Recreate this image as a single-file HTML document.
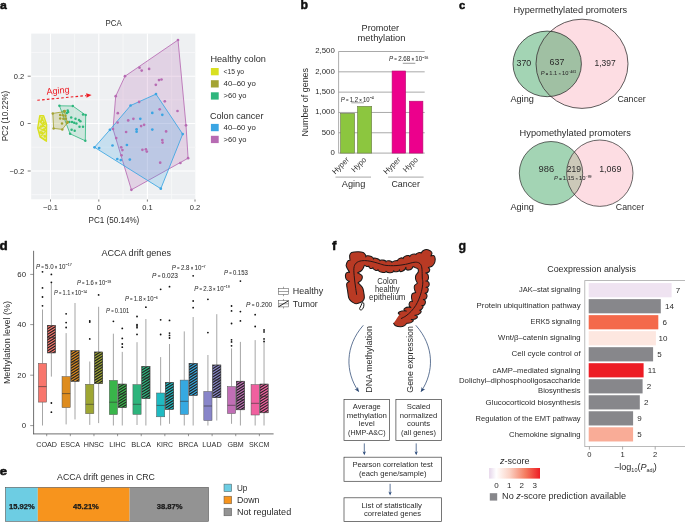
<!DOCTYPE html>
<html lang="en">
<head>
<meta charset="utf-8">
<title>Figure</title>
<style>
html,body{margin:0;padding:0;background:#fff;}
body{width:685px;height:522px;overflow:hidden;font-family:"Liberation Sans",sans-serif;}
svg{display:block;}
svg text{font-family:"Liberation Sans",sans-serif;}
</style>
</head>
<body>
<svg width="685" height="522" viewBox="0 0 685 522">
<rect x="0" y="0" width="685" height="522" fill="#ffffff"/>
<g fill="#2b2b2b">
<text x="0.10" y="8.80" font-size="11.4" textLength="6.80" lengthAdjust="spacingAndGlyphs" fill="#111" font-weight="bold" stroke="#111" stroke-width="0.5" stroke-linejoin="round">a</text>
<text x="113.60" y="25.70" font-size="8.6" text-anchor="middle" textLength="16.20" lengthAdjust="spacingAndGlyphs">PCA</text>
<rect x="31.20" y="33.60" width="164.10" height="165.70" fill="#eef0f2" />
<line x1="74.60" y1="33.60" x2="74.60" y2="199.30" stroke="#f9fafb" stroke-width="0.7" />
<line x1="123.00" y1="33.60" x2="123.00" y2="199.30" stroke="#f9fafb" stroke-width="0.7" />
<line x1="171.60" y1="33.60" x2="171.60" y2="199.30" stroke="#f9fafb" stroke-width="0.7" />
<line x1="31.20" y1="52.50" x2="195.30" y2="52.50" stroke="#f7f8f9" stroke-width="0.8" />
<line x1="31.20" y1="99.80" x2="195.30" y2="99.80" stroke="#f7f8f9" stroke-width="0.8" />
<line x1="31.20" y1="147.20" x2="195.30" y2="147.20" stroke="#f7f8f9" stroke-width="0.8" />
<line x1="31.20" y1="194.60" x2="195.30" y2="194.60" stroke="#f7f8f9" stroke-width="0.8" />
<line x1="50.50" y1="33.60" x2="50.50" y2="199.30" stroke="#ffffff" stroke-width="1.1" />
<line x1="98.80" y1="33.60" x2="98.80" y2="199.30" stroke="#ffffff" stroke-width="1.1" />
<line x1="147.40" y1="33.60" x2="147.40" y2="199.30" stroke="#ffffff" stroke-width="1.1" />
<line x1="31.20" y1="76.20" x2="195.30" y2="76.20" stroke="#ffffff" stroke-width="1.1" />
<line x1="31.20" y1="123.50" x2="195.30" y2="123.50" stroke="#ffffff" stroke-width="1.1" />
<line x1="31.20" y1="171.00" x2="195.30" y2="171.00" stroke="#ffffff" stroke-width="1.1" />
<line x1="27.70" y1="76.20" x2="30.70" y2="76.20" stroke="#444" stroke-width="0.7" />
<text x="24.20" y="78.80" font-size="7.5" text-anchor="end">0.2</text>
<line x1="27.70" y1="123.50" x2="30.70" y2="123.50" stroke="#444" stroke-width="0.7" />
<text x="24.20" y="126.10" font-size="7.5" text-anchor="end">0</text>
<line x1="27.70" y1="171.00" x2="30.70" y2="171.00" stroke="#444" stroke-width="0.7" />
<text x="24.20" y="173.60" font-size="7.5" text-anchor="end">−0.2</text>
<text x="50.50" y="210.40" font-size="7.5" text-anchor="middle">−0.1</text>
<line x1="50.50" y1="199.50" x2="50.50" y2="201.60" stroke="#444" stroke-width="0.7" />
<text x="98.80" y="210.40" font-size="7.5" text-anchor="middle">0</text>
<line x1="98.80" y1="199.50" x2="98.80" y2="201.60" stroke="#444" stroke-width="0.7" />
<text x="147.40" y="210.40" font-size="7.5" text-anchor="middle">0.1</text>
<line x1="147.40" y1="199.50" x2="147.40" y2="201.60" stroke="#444" stroke-width="0.7" />
<text x="195.00" y="210.40" font-size="7.5" text-anchor="middle">0.2</text>
<line x1="195.00" y1="199.50" x2="195.00" y2="201.60" stroke="#444" stroke-width="0.7" />
<text x="113.90" y="222.60" font-size="8.2" text-anchor="middle" textLength="50.80" lengthAdjust="spacingAndGlyphs">PC1 (50.14%)</text>
<text x="7.90" y="116.00" font-size="8.2" text-anchor="middle" textLength="50.60" lengthAdjust="spacingAndGlyphs" transform="rotate(-90 7.90 116.00)">PC2 (10.22%)</text>
<polygon points="178.0,40.0 125.0,76.2 115.7,96.2 113.0,129.0 131.4,189.8 188.1,158.2 186.0,125.3" fill="#b76bb3" stroke="#b76bb3" stroke-width="0.85" fill-opacity="0.22" stroke-linejoin="round"/>
<polygon points="156.0,94.1 130.6,105.5 109.9,129.8 94.5,147.3 160.8,188.7 182.7,134.1" fill="#3aa5e3" stroke="#3aa5e3" stroke-width="0.85" fill-opacity="0.22" stroke-linejoin="round"/>
<polygon points="59.4,105.8 72.8,106.0 85.7,115.1 85.3,140.8 70.1,133.8" fill="#2eb67d" stroke="#2eb67d" stroke-width="0.8" fill-opacity="0.17" stroke-linejoin="round"/>
<polygon points="52.8,113.4 64.5,111.6 67.4,122.8 62.3,129.4 53.6,128.4" fill="#a3a332" stroke="#a3a332" stroke-width="0.85" fill-opacity="0.25" stroke-linejoin="round"/>
<polygon points="39.8,115.6 43.6,115.6 46.6,124.5 46.4,141.2 40.2,137.2 37.7,128.0" fill="#d9e021" stroke="#d9e021" stroke-width="1.4" fill-opacity="0.35" stroke-linejoin="round"/>
<path d="M40.5,116.5 L45.5,124 L38.5,128 L45.8,131 L40.4,136.6 L45.8,140.2 M43.2,116.2 L40.8,122.5 L46,128 L39.5,132.5 L45.6,136" fill="none" stroke="#d9e021" stroke-width="1.1" stroke-linejoin="round"/>
<circle cx="139.50" cy="67.70" r="1.35" fill="#b76bb3" />
<circle cx="141.70" cy="70.60" r="1.35" fill="#b76bb3" />
<circle cx="149.10" cy="68.90" r="1.35" fill="#b76bb3" />
<circle cx="159.00" cy="80.10" r="1.35" fill="#b76bb3" />
<circle cx="161.50" cy="79.50" r="1.35" fill="#b76bb3" />
<circle cx="155.80" cy="84.80" r="1.35" fill="#b76bb3" />
<circle cx="164.80" cy="101.30" r="1.35" fill="#b76bb3" />
<circle cx="159.70" cy="109.30" r="1.35" fill="#b76bb3" />
<circle cx="177.50" cy="111.00" r="1.35" fill="#b76bb3" />
<circle cx="139.10" cy="101.90" r="1.35" fill="#b76bb3" />
<circle cx="117.80" cy="113.20" r="1.35" fill="#b76bb3" />
<circle cx="117.60" cy="122.50" r="1.35" fill="#b76bb3" />
<circle cx="128.20" cy="120.40" r="1.35" fill="#b76bb3" />
<circle cx="133.40" cy="118.80" r="1.35" fill="#b76bb3" />
<circle cx="141.10" cy="126.10" r="1.35" fill="#b76bb3" />
<circle cx="144.10" cy="124.80" r="1.35" fill="#b76bb3" />
<circle cx="126.10" cy="132.00" r="1.35" fill="#b76bb3" />
<circle cx="166.10" cy="131.40" r="1.35" fill="#b76bb3" />
<circle cx="116.20" cy="138.10" r="1.35" fill="#b76bb3" />
<circle cx="162.30" cy="140.00" r="1.35" fill="#b76bb3" />
<circle cx="162.60" cy="142.60" r="1.35" fill="#b76bb3" />
<circle cx="121.20" cy="147.30" r="1.35" fill="#b76bb3" />
<circle cx="122.40" cy="150.10" r="1.35" fill="#b76bb3" />
<circle cx="121.50" cy="155.30" r="1.35" fill="#b76bb3" />
<circle cx="142.40" cy="149.80" r="1.35" fill="#b76bb3" />
<circle cx="145.90" cy="149.30" r="1.35" fill="#b76bb3" />
<circle cx="146.80" cy="151.60" r="1.35" fill="#b76bb3" />
<circle cx="160.20" cy="162.70" r="1.35" fill="#b76bb3" />
<circle cx="180.40" cy="163.00" r="1.35" fill="#b76bb3" />
<circle cx="178.00" cy="40.00" r="1.35" fill="#b76bb3" />
<circle cx="125.00" cy="76.20" r="1.35" fill="#b76bb3" />
<circle cx="115.70" cy="96.20" r="1.35" fill="#b76bb3" />
<circle cx="113.00" cy="129.00" r="1.35" fill="#b76bb3" />
<circle cx="131.40" cy="189.80" r="1.35" fill="#b76bb3" />
<circle cx="188.10" cy="158.20" r="1.35" fill="#b76bb3" />
<circle cx="186.00" cy="125.30" r="1.35" fill="#b76bb3" />
<circle cx="152.30" cy="112.90" r="1.35" fill="#3aa5e3" />
<circle cx="162.30" cy="114.80" r="1.35" fill="#3aa5e3" />
<circle cx="140.30" cy="118.80" r="1.35" fill="#3aa5e3" />
<circle cx="136.60" cy="129.30" r="1.35" fill="#3aa5e3" />
<circle cx="136.60" cy="131.70" r="1.35" fill="#3aa5e3" />
<circle cx="152.30" cy="129.60" r="1.35" fill="#3aa5e3" />
<circle cx="112.50" cy="145.50" r="1.35" fill="#3aa5e3" />
<circle cx="99.20" cy="148.10" r="1.35" fill="#3aa5e3" />
<circle cx="126.90" cy="145.00" r="1.35" fill="#3aa5e3" />
<circle cx="117.30" cy="159.00" r="1.35" fill="#3aa5e3" />
<circle cx="120.80" cy="160.10" r="1.35" fill="#3aa5e3" />
<circle cx="129.80" cy="159.60" r="1.35" fill="#3aa5e3" />
<circle cx="156.00" cy="94.10" r="1.35" fill="#3aa5e3" />
<circle cx="130.60" cy="105.50" r="1.35" fill="#3aa5e3" />
<circle cx="109.90" cy="129.80" r="1.35" fill="#3aa5e3" />
<circle cx="94.50" cy="147.30" r="1.35" fill="#3aa5e3" />
<circle cx="160.80" cy="188.70" r="1.35" fill="#3aa5e3" />
<circle cx="182.70" cy="134.10" r="1.35" fill="#3aa5e3" />
<circle cx="67.70" cy="110.50" r="1.25" fill="#2eb67d" />
<circle cx="68.10" cy="111.90" r="1.25" fill="#2eb67d" />
<circle cx="66.80" cy="113.00" r="1.25" fill="#2eb67d" />
<circle cx="63.80" cy="111.20" r="1.25" fill="#2eb67d" />
<circle cx="71.20" cy="117.50" r="1.25" fill="#2eb67d" />
<circle cx="75.50" cy="118.80" r="1.25" fill="#2eb67d" />
<circle cx="79.00" cy="120.10" r="1.25" fill="#2eb67d" />
<circle cx="80.40" cy="121.20" r="1.25" fill="#2eb67d" />
<circle cx="69.40" cy="121.90" r="1.25" fill="#2eb67d" />
<circle cx="72.00" cy="122.10" r="1.25" fill="#2eb67d" />
<circle cx="74.20" cy="122.80" r="1.25" fill="#2eb67d" />
<circle cx="76.40" cy="123.50" r="1.25" fill="#2eb67d" />
<circle cx="79.50" cy="126.70" r="1.25" fill="#2eb67d" />
<circle cx="83.00" cy="126.70" r="1.25" fill="#2eb67d" />
<circle cx="71.60" cy="129.80" r="1.25" fill="#2eb67d" />
<circle cx="74.70" cy="130.80" r="1.25" fill="#2eb67d" />
<circle cx="83.00" cy="114.40" r="1.25" fill="#2eb67d" />
<circle cx="59.40" cy="105.80" r="1.25" fill="#2eb67d" />
<circle cx="72.80" cy="106.00" r="1.25" fill="#2eb67d" />
<circle cx="85.70" cy="115.10" r="1.25" fill="#2eb67d" />
<circle cx="85.30" cy="140.80" r="1.25" fill="#2eb67d" />
<circle cx="70.10" cy="133.80" r="1.25" fill="#2eb67d" />
<circle cx="64.60" cy="110.90" r="1.25" fill="#a3a332" />
<circle cx="60.20" cy="114.90" r="1.25" fill="#a3a332" />
<circle cx="62.80" cy="115.30" r="1.25" fill="#a3a332" />
<circle cx="65.50" cy="115.80" r="1.25" fill="#a3a332" />
<circle cx="60.20" cy="118.40" r="1.25" fill="#a3a332" />
<circle cx="63.30" cy="118.80" r="1.25" fill="#a3a332" />
<circle cx="65.90" cy="118.80" r="1.25" fill="#a3a332" />
<circle cx="62.00" cy="123.60" r="1.25" fill="#a3a332" />
<circle cx="67.70" cy="121.90" r="1.25" fill="#a3a332" />
<circle cx="52.80" cy="113.40" r="1.25" fill="#a3a332" />
<circle cx="64.50" cy="111.60" r="1.25" fill="#a3a332" />
<circle cx="67.40" cy="122.80" r="1.25" fill="#a3a332" />
<circle cx="62.30" cy="129.40" r="1.25" fill="#a3a332" />
<circle cx="53.60" cy="128.40" r="1.25" fill="#a3a332" />
<circle cx="42.00" cy="119.50" r="1.20" fill="#d9e021" />
<circle cx="43.50" cy="123.00" r="1.20" fill="#d9e021" />
<circle cx="41.00" cy="126.50" r="1.20" fill="#d9e021" />
<circle cx="44.00" cy="129.50" r="1.20" fill="#d9e021" />
<circle cx="42.20" cy="133.00" r="1.20" fill="#d9e021" />
<circle cx="44.80" cy="136.50" r="1.20" fill="#d9e021" />
<circle cx="40.50" cy="121.50" r="1.20" fill="#d9e021" />
<circle cx="42.80" cy="126.00" r="1.20" fill="#d9e021" />
<line x1="37.3" y1="100.3" x2="86.0" y2="95.6" stroke="#ed1c24" stroke-width="1.1" stroke-dasharray="2.6 2.2"/>
<polygon points="91.6,94.9 86.6,97.8 86.2,93.2" fill="#ed1c24"/>
<text x="58.30" y="93.60" font-size="9.2" text-anchor="middle" textLength="23.20" lengthAdjust="spacingAndGlyphs" fill="#ed1c24" transform="rotate(-5.5 58.30 93.60)">Aging</text>
<text x="210.40" y="61.90" font-size="9.2" textLength="55.50" lengthAdjust="spacingAndGlyphs">Healthy colon</text>
<text x="210.00" y="118.80" font-size="9.2" textLength="53.40" lengthAdjust="spacingAndGlyphs">Colon cancer</text>
<rect x="210.90" y="68.00" width="7.80" height="7.30" fill="#d9e021" />
<text x="223.60" y="73.90" font-size="7.6" textLength="20.40" lengthAdjust="spacingAndGlyphs">&lt;15 yo</text>
<rect x="210.90" y="80.20" width="7.80" height="7.30" fill="#a3a332" />
<text x="223.60" y="85.80" font-size="7.6" textLength="32.20" lengthAdjust="spacingAndGlyphs">40–60 yo</text>
<rect x="210.90" y="92.30" width="7.80" height="7.30" fill="#2eb67d" />
<text x="223.60" y="98.00" font-size="7.6" textLength="22.80" lengthAdjust="spacingAndGlyphs">&gt;60 yo</text>
<rect x="210.90" y="123.90" width="7.80" height="7.30" fill="#3aa5e3" />
<text x="223.60" y="130.00" font-size="7.6" textLength="32.20" lengthAdjust="spacingAndGlyphs">40–60 yo</text>
<rect x="210.90" y="135.80" width="7.80" height="7.30" fill="#b76bb3" />
<text x="223.60" y="142.00" font-size="7.6" textLength="22.80" lengthAdjust="spacingAndGlyphs">&gt;60 yo</text>
<text x="300.60" y="8.90" font-size="12.6" textLength="7.50" lengthAdjust="spacingAndGlyphs" fill="#111" font-weight="bold" stroke="#111" stroke-width="0.5" stroke-linejoin="round">b</text>
<text x="380.30" y="31.10" font-size="9.2" text-anchor="middle" textLength="37.50" lengthAdjust="spacingAndGlyphs">Promoter</text>
<text x="381.50" y="41.00" font-size="9.2" text-anchor="middle" textLength="48.00" lengthAdjust="spacingAndGlyphs">methylation</text>
<line x1="338.60" y1="153.10" x2="424.70" y2="153.10" stroke="#7a7a7a" stroke-width="0.65" />
<text x="334.80" y="155.00" font-size="7.8" text-anchor="end">0</text>
<line x1="338.60" y1="132.78" x2="424.70" y2="132.78" stroke="#7a7a7a" stroke-width="0.65" />
<text x="334.80" y="134.68" font-size="7.8" text-anchor="end">500</text>
<line x1="338.60" y1="112.46" x2="424.70" y2="112.46" stroke="#7a7a7a" stroke-width="0.65" />
<text x="334.80" y="114.36" font-size="7.8" text-anchor="end">1,000</text>
<line x1="338.60" y1="92.14" x2="424.70" y2="92.14" stroke="#7a7a7a" stroke-width="0.65" />
<text x="334.80" y="94.04" font-size="7.8" text-anchor="end">1,500</text>
<line x1="338.60" y1="71.82" x2="424.70" y2="71.82" stroke="#7a7a7a" stroke-width="0.65" />
<text x="334.80" y="73.72" font-size="7.8" text-anchor="end">2,000</text>
<line x1="338.60" y1="51.50" x2="424.70" y2="51.50" stroke="#7a7a7a" stroke-width="0.65" />
<text x="334.80" y="53.40" font-size="7.8" text-anchor="end">2,500</text>
<line x1="338.60" y1="51.50" x2="338.60" y2="153.40" stroke="#8a8a8a" stroke-width="0.7" />
<text x="307.60" y="102.20" font-size="9.0" text-anchor="middle" textLength="68.50" lengthAdjust="spacingAndGlyphs" transform="rotate(-90 307.60 102.20)">Number of genes</text>
<rect x="340.50" y="113.30" width="14.10" height="39.80" fill="#8cc63f" stroke="#6b7a4a" stroke-width="0.6" />
<rect x="357.50" y="106.30" width="14.20" height="46.80" fill="#8cc63f" stroke="#6b7a4a" stroke-width="0.6" />
<rect x="392.10" y="71.00" width="13.50" height="82.10" fill="#ec008c" stroke="#b30a6c" stroke-width="0.6" />
<rect x="409.40" y="101.20" width="13.50" height="51.90" fill="#ec008c" stroke="#b30a6c" stroke-width="0.6" />
<text x="340.80" y="101.60" font-size="6.3" textLength="33.00" lengthAdjust="spacingAndGlyphs" fill="#333" stroke="#333" stroke-width="0.05"><tspan font-style="italic">P</tspan><tspan font-size="4.54"> = </tspan>1.2<tspan font-size="4.54"> × </tspan>10<tspan font-size="3.78" dy="-2.27">−4</tspan></text>
<line x1="351.30" y1="102.80" x2="364.00" y2="102.80" stroke="#8a8a8a" stroke-width="0.8" />
<text x="389.00" y="61.00" font-size="6.3" textLength="39.40" lengthAdjust="spacingAndGlyphs" fill="#333" stroke="#333" stroke-width="0.05"><tspan font-style="italic">P</tspan><tspan font-size="4.54"> = </tspan>2.68<tspan font-size="4.54"> × </tspan>10<tspan font-size="3.78" dy="-2.27">−16</tspan></text>
<line x1="402.80" y1="63.30" x2="415.30" y2="63.30" stroke="#6e6e6e" stroke-width="0.7" />
<text x="349.70" y="160.30" font-size="7.8" text-anchor="end" textLength="20.50" lengthAdjust="spacingAndGlyphs" transform="rotate(-45 349.70 160.30)">Hyper</text>
<text x="366.80" y="160.30" font-size="7.8" text-anchor="end" textLength="17.50" lengthAdjust="spacingAndGlyphs" transform="rotate(-45 366.80 160.30)">Hypo</text>
<text x="401.10" y="160.30" font-size="7.8" text-anchor="end" textLength="20.50" lengthAdjust="spacingAndGlyphs" transform="rotate(-45 401.10 160.30)">Hyper</text>
<text x="418.40" y="160.30" font-size="7.8" text-anchor="end" textLength="17.50" lengthAdjust="spacingAndGlyphs" transform="rotate(-45 418.40 160.30)">Hypo</text>
<line x1="335.50" y1="177.10" x2="371.00" y2="177.10" stroke="#6a6a6a" stroke-width="0.6" />
<line x1="388.10" y1="177.10" x2="423.60" y2="177.10" stroke="#6a6a6a" stroke-width="0.6" />
<text x="353.50" y="186.80" font-size="9.2" text-anchor="middle" textLength="23.50" lengthAdjust="spacingAndGlyphs">Aging</text>
<text x="405.70" y="186.80" font-size="9.2" text-anchor="middle" textLength="28.50" lengthAdjust="spacingAndGlyphs">Cancer</text>
<text x="459.00" y="8.80" font-size="11.4" textLength="6.20" lengthAdjust="spacingAndGlyphs" fill="#111" font-weight="bold" stroke="#111" stroke-width="0.5" stroke-linejoin="round">c</text>
<text x="570.30" y="12.90" font-size="9.0" text-anchor="middle" textLength="113.70" lengthAdjust="spacingAndGlyphs">Hypermethylated promoters</text>
<ellipse cx="547.20" cy="63.90" rx="34.20" ry="32.80" fill="#a3d4b4" />
<ellipse cx="582.00" cy="63.80" rx="46.00" ry="44.60" fill="#fddde3" />
<clipPath id="cv1"><ellipse cx="547.2" cy="63.9" rx="34.2" ry="32.8"/></clipPath>
<ellipse cx="582.00" cy="63.80" rx="46.00" ry="44.60" fill="#a0c0a3" clip-path="url(#cv1)"/>
<ellipse cx="547.20" cy="63.90" rx="34.20" ry="32.80" fill="none" stroke="#2a2a2a" stroke-width="0.75" />
<ellipse cx="582.00" cy="63.80" rx="46.00" ry="44.60" fill="none" stroke="#2a2a2a" stroke-width="0.75" />
<text x="523.90" y="66.00" font-size="8.6" text-anchor="middle" textLength="14.80" lengthAdjust="spacingAndGlyphs">370</text>
<text x="557.00" y="65.00" font-size="8.6" text-anchor="middle" textLength="14.80" lengthAdjust="spacingAndGlyphs">637</text>
<text x="605.10" y="66.00" font-size="8.6" text-anchor="middle" textLength="21.20" lengthAdjust="spacingAndGlyphs">1,397</text>
<text x="558.50" y="75.00" font-size="5.2" text-anchor="middle" textLength="35.50" lengthAdjust="spacingAndGlyphs" fill="#333" stroke="#333" stroke-width="0.05"><tspan font-style="italic">P</tspan><tspan font-size="3.74"> = </tspan>1.1<tspan font-size="3.74"> × </tspan>10<tspan font-size="3.12" dy="-1.87">−461</tspan></text>
<text x="510.40" y="101.80" font-size="9.0" textLength="23.50" lengthAdjust="spacingAndGlyphs">Aging</text>
<text x="617.40" y="101.80" font-size="9.0" textLength="28.30" lengthAdjust="spacingAndGlyphs">Cancer</text>
<text x="575.20" y="135.80" font-size="9.0" text-anchor="middle" textLength="111.30" lengthAdjust="spacingAndGlyphs">Hypomethylated promoters</text>
<circle cx="551.00" cy="173.20" r="31.70" fill="#a3d4b4" />
<circle cx="599.80" cy="173.20" r="33.20" fill="#fddde3" />
<clipPath id="cv2"><circle cx="551.0" cy="173.2" r="31.7"/></clipPath>
<circle cx="599.80" cy="173.20" r="33.20" fill="#ccc9b9" clip-path="url(#cv2)"/>
<circle cx="551.00" cy="173.20" r="31.70" fill="none" stroke="#2a2a2a" stroke-width="0.7" />
<circle cx="599.80" cy="173.20" r="33.20" fill="none" stroke="#2a2a2a" stroke-width="0.7" />
<text x="546.30" y="172.40" font-size="8.6" text-anchor="middle" textLength="15.60" lengthAdjust="spacingAndGlyphs">986</text>
<text x="573.80" y="172.40" font-size="8.6" text-anchor="middle" textLength="14.20" lengthAdjust="spacingAndGlyphs">219</text>
<text x="610.30" y="172.40" font-size="8.6" text-anchor="middle" textLength="22.20" lengthAdjust="spacingAndGlyphs">1,069</text>
<text x="572.80" y="180.30" font-size="5.2" text-anchor="middle" textLength="37.50" lengthAdjust="spacingAndGlyphs" fill="#333" stroke="#333" stroke-width="0.05"><tspan font-style="italic">P</tspan><tspan font-size="3.74"> = </tspan>1.15<tspan font-size="3.74"> × </tspan>10<tspan font-size="3.12" dy="-1.87">−99</tspan></text>
<text x="510.40" y="210.00" font-size="9.0" textLength="23.50" lengthAdjust="spacingAndGlyphs">Aging</text>
<text x="615.80" y="210.00" font-size="9.0" textLength="28.30" lengthAdjust="spacingAndGlyphs">Cancer</text>
<text x="-0.60" y="250.20" font-size="12.3" textLength="8.20" lengthAdjust="spacingAndGlyphs" fill="#111" font-weight="bold" stroke="#111" stroke-width="0.5" stroke-linejoin="round">d</text>
<text x="136.20" y="256.10" font-size="8.7" text-anchor="middle" textLength="69.60" lengthAdjust="spacingAndGlyphs">ACCA drift genes</text>
<line x1="33.60" y1="250.80" x2="33.60" y2="434.20" stroke="#4a4a4a" stroke-width="0.8" />
<line x1="33.20" y1="433.90" x2="273.60" y2="433.90" stroke="#4a4a4a" stroke-width="0.8" />
<line x1="30.20" y1="274.40" x2="33.60" y2="274.40" stroke="#555" stroke-width="0.6" />
<text x="26.00" y="276.70" font-size="7.8" text-anchor="end">60</text>
<line x1="30.20" y1="324.60" x2="33.60" y2="324.60" stroke="#555" stroke-width="0.6" />
<text x="26.00" y="326.90" font-size="7.8" text-anchor="end">40</text>
<line x1="30.20" y1="375.20" x2="33.60" y2="375.20" stroke="#555" stroke-width="0.6" />
<text x="26.00" y="377.50" font-size="7.8" text-anchor="end">20</text>
<line x1="30.20" y1="425.60" x2="33.60" y2="425.60" stroke="#555" stroke-width="0.6" />
<text x="26.00" y="427.90" font-size="7.8" text-anchor="end">0</text>
<text x="10.00" y="342.60" font-size="9.0" text-anchor="middle" textLength="83.00" lengthAdjust="spacingAndGlyphs" transform="rotate(-90 10.00 342.60)">Methylation level (%)</text>
<line x1="46.70" y1="434.00" x2="46.70" y2="436.20" stroke="#555" stroke-width="0.6" />
<text x="46.60" y="446.80" font-size="7.6" text-anchor="middle" textLength="20.80" lengthAdjust="spacingAndGlyphs">COAD</text>
<line x1="42.50" y1="309.50" x2="42.50" y2="363.40" stroke="#6a6a6a" stroke-width="0.6" />
<line x1="42.50" y1="402.10" x2="42.50" y2="425.50" stroke="#6a6a6a" stroke-width="0.6" />
<rect x="38.40" y="363.40" width="8.20" height="38.70" fill="#f8766d" stroke="#555" stroke-width="0.5" />
<line x1="38.40" y1="386.60" x2="46.60" y2="386.60" stroke="#333" stroke-width="0.6" />
<circle cx="42.50" cy="271.80" r="0.90" fill="#111" />
<circle cx="42.50" cy="287.90" r="0.90" fill="#111" />
<circle cx="42.50" cy="297.00" r="0.90" fill="#111" />
<circle cx="42.50" cy="305.80" r="0.90" fill="#111" />
<line x1="51.38" y1="282.30" x2="51.38" y2="325.30" stroke="#6a6a6a" stroke-width="0.6" />
<line x1="51.38" y1="352.90" x2="51.38" y2="376.60" stroke="#6a6a6a" stroke-width="0.6" />
<rect x="47.30" y="325.30" width="8.15" height="27.60" fill="#f8766d" stroke="#555" stroke-width="0.5" />
<clipPath id="hc0"><rect x="47.30" y="325.30" width="8.15" height="27.60"/></clipPath>
<path d="M46.80,326.51L55.95,320.84M46.80,329.26L55.95,323.59M46.80,332.01L55.95,326.34M46.80,334.76L55.95,329.09M46.80,337.51L55.95,331.84M46.80,340.26L55.95,334.59M46.80,343.01L55.95,337.34M46.80,345.76L55.95,340.09M46.80,348.51L55.95,342.84M46.80,351.26L55.95,345.59M46.80,354.01L55.95,348.34M46.80,356.76L55.95,351.09" stroke="#222" stroke-width="1.1" fill="none" clip-path="url(#hc0)"/>
<rect x="47.30" y="325.30" width="8.15" height="27.60" fill="none" stroke="#444" stroke-width="0.5" />
<line x1="47.30" y1="337.50" x2="55.45" y2="337.50" stroke="#333" stroke-width="0.6" />
<circle cx="51.38" cy="274.40" r="0.90" fill="#111" />
<circle cx="51.38" cy="282.30" r="0.90" fill="#111" />
<circle cx="51.38" cy="403.00" r="0.90" fill="#111" />
<circle cx="51.38" cy="412.20" r="0.90" fill="#111" />
<line x1="70.33" y1="434.00" x2="70.33" y2="436.20" stroke="#555" stroke-width="0.6" />
<text x="70.23" y="446.80" font-size="7.6" text-anchor="middle" textLength="19.30" lengthAdjust="spacingAndGlyphs">ESCA</text>
<line x1="66.13" y1="333.10" x2="66.13" y2="376.60" stroke="#6a6a6a" stroke-width="0.6" />
<line x1="66.13" y1="407.60" x2="66.13" y2="424.40" stroke="#6a6a6a" stroke-width="0.6" />
<rect x="62.03" y="376.60" width="8.20" height="31.00" fill="#de8c1e" stroke="#555" stroke-width="0.5" />
<line x1="62.03" y1="393.60" x2="70.23" y2="393.60" stroke="#333" stroke-width="0.6" />
<circle cx="66.13" cy="313.80" r="0.90" fill="#111" />
<circle cx="66.13" cy="322.60" r="0.90" fill="#111" />
<circle cx="66.13" cy="327.50" r="0.90" fill="#111" />
<line x1="75.00" y1="303.00" x2="75.00" y2="350.70" stroke="#6a6a6a" stroke-width="0.6" />
<line x1="75.00" y1="381.30" x2="75.00" y2="419.40" stroke="#6a6a6a" stroke-width="0.6" />
<rect x="70.93" y="350.70" width="8.15" height="30.60" fill="#de8c1e" stroke="#555" stroke-width="0.5" />
<clipPath id="hc1"><rect x="70.93" y="350.70" width="8.15" height="30.60"/></clipPath>
<path d="M70.43,351.91L79.58,346.24M70.43,354.66L79.58,348.99M70.43,357.41L79.58,351.74M70.43,360.16L79.58,354.49M70.43,362.91L79.58,357.24M70.43,365.66L79.58,359.99M70.43,368.41L79.58,362.74M70.43,371.16L79.58,365.49M70.43,373.91L79.58,368.24M70.43,376.66L79.58,370.99M70.43,379.41L79.58,373.74M70.43,382.16L79.58,376.49M70.43,384.91L79.58,379.24" stroke="#222" stroke-width="1.1" fill="none" clip-path="url(#hc1)"/>
<rect x="70.93" y="350.70" width="8.15" height="30.60" fill="none" stroke="#444" stroke-width="0.5" />
<line x1="70.93" y1="362.00" x2="79.08" y2="362.00" stroke="#333" stroke-width="0.6" />
<line x1="93.96" y1="434.00" x2="93.96" y2="436.20" stroke="#555" stroke-width="0.6" />
<text x="93.86" y="446.80" font-size="7.6" text-anchor="middle" textLength="20.20" lengthAdjust="spacingAndGlyphs">HNSC</text>
<line x1="89.76" y1="361.50" x2="89.76" y2="384.30" stroke="#6a6a6a" stroke-width="0.6" />
<line x1="89.76" y1="413.70" x2="89.76" y2="424.90" stroke="#6a6a6a" stroke-width="0.6" />
<rect x="85.66" y="384.30" width="8.20" height="29.40" fill="#9ea633" stroke="#555" stroke-width="0.5" />
<line x1="85.66" y1="404.30" x2="93.86" y2="404.30" stroke="#333" stroke-width="0.6" />
<circle cx="89.76" cy="320.80" r="0.90" fill="#111" />
<circle cx="89.76" cy="322.00" r="0.90" fill="#111" />
<circle cx="89.76" cy="338.90" r="0.90" fill="#111" />
<line x1="98.63" y1="306.80" x2="98.63" y2="352.00" stroke="#6a6a6a" stroke-width="0.6" />
<line x1="98.63" y1="383.60" x2="98.63" y2="423.10" stroke="#6a6a6a" stroke-width="0.6" />
<rect x="94.56" y="352.00" width="8.15" height="31.60" fill="#9ea633" stroke="#555" stroke-width="0.5" />
<clipPath id="hc2"><rect x="94.56" y="352.00" width="8.15" height="31.60"/></clipPath>
<path d="M94.06,353.21L103.21,347.54M94.06,355.96L103.21,350.29M94.06,358.71L103.21,353.04M94.06,361.46L103.21,355.79M94.06,364.21L103.21,358.54M94.06,366.96L103.21,361.29M94.06,369.71L103.21,364.04M94.06,372.46L103.21,366.79M94.06,375.21L103.21,369.54M94.06,377.96L103.21,372.29M94.06,380.71L103.21,375.04M94.06,383.46L103.21,377.79M94.06,386.21L103.21,380.54M94.06,388.96L103.21,383.29" stroke="#222" stroke-width="1.1" fill="none" clip-path="url(#hc2)"/>
<rect x="94.56" y="352.00" width="8.15" height="31.60" fill="none" stroke="#444" stroke-width="0.5" />
<line x1="94.56" y1="366.00" x2="102.71" y2="366.00" stroke="#333" stroke-width="0.6" />
<circle cx="98.63" cy="294.90" r="0.90" fill="#111" />
<line x1="117.59" y1="434.00" x2="117.59" y2="436.20" stroke="#555" stroke-width="0.6" />
<text x="117.49" y="446.80" font-size="7.6" text-anchor="middle" textLength="16.60" lengthAdjust="spacingAndGlyphs">LIHC</text>
<line x1="113.39" y1="333.70" x2="113.39" y2="380.40" stroke="#6a6a6a" stroke-width="0.6" />
<line x1="113.39" y1="414.60" x2="113.39" y2="425.50" stroke="#6a6a6a" stroke-width="0.6" />
<rect x="109.29" y="380.40" width="8.20" height="34.20" fill="#39b54a" stroke="#555" stroke-width="0.5" />
<line x1="109.29" y1="402.20" x2="117.49" y2="402.20" stroke="#333" stroke-width="0.6" />
<circle cx="113.39" cy="321.30" r="0.90" fill="#111" />
<line x1="122.27" y1="351.90" x2="122.27" y2="384.10" stroke="#6a6a6a" stroke-width="0.6" />
<line x1="122.27" y1="407.50" x2="122.27" y2="425.50" stroke="#6a6a6a" stroke-width="0.6" />
<rect x="118.19" y="384.10" width="8.15" height="23.40" fill="#39b54a" stroke="#555" stroke-width="0.5" />
<clipPath id="hc3"><rect x="118.19" y="384.10" width="8.15" height="23.40"/></clipPath>
<path d="M117.69,385.31L126.84,379.64M117.69,388.06L126.84,382.39M117.69,390.81L126.84,385.14M117.69,393.56L126.84,387.89M117.69,396.31L126.84,390.64M117.69,399.06L126.84,393.39M117.69,401.81L126.84,396.14M117.69,404.56L126.84,398.89M117.69,407.31L126.84,401.64M117.69,410.06L126.84,404.39M117.69,412.81L126.84,407.14" stroke="#222" stroke-width="1.1" fill="none" clip-path="url(#hc3)"/>
<rect x="118.19" y="384.10" width="8.15" height="23.40" fill="none" stroke="#444" stroke-width="0.5" />
<line x1="118.19" y1="394.00" x2="126.34" y2="394.00" stroke="#333" stroke-width="0.6" />
<circle cx="122.27" cy="328.40" r="0.90" fill="#111" />
<circle cx="122.27" cy="338.40" r="0.90" fill="#111" />
<circle cx="122.27" cy="344.00" r="0.90" fill="#111" />
<circle cx="122.27" cy="347.20" r="0.90" fill="#111" />
<line x1="141.22" y1="434.00" x2="141.22" y2="436.20" stroke="#555" stroke-width="0.6" />
<text x="141.12" y="446.80" font-size="7.6" text-anchor="middle" textLength="19.60" lengthAdjust="spacingAndGlyphs">BLCA</text>
<line x1="137.02" y1="342.20" x2="137.02" y2="384.60" stroke="#6a6a6a" stroke-width="0.6" />
<line x1="137.02" y1="414.40" x2="137.02" y2="425.00" stroke="#6a6a6a" stroke-width="0.6" />
<rect x="132.92" y="384.60" width="8.20" height="29.80" fill="#2db47c" stroke="#555" stroke-width="0.5" />
<line x1="132.92" y1="404.30" x2="141.12" y2="404.30" stroke="#333" stroke-width="0.6" />
<circle cx="137.02" cy="316.50" r="0.90" fill="#111" />
<circle cx="137.02" cy="324.70" r="0.90" fill="#111" />
<circle cx="137.02" cy="326.00" r="0.90" fill="#111" />
<circle cx="137.02" cy="327.70" r="0.90" fill="#111" />
<circle cx="137.02" cy="334.40" r="0.90" fill="#111" />
<line x1="145.89" y1="319.00" x2="145.89" y2="366.40" stroke="#6a6a6a" stroke-width="0.6" />
<line x1="145.89" y1="398.60" x2="145.89" y2="425.50" stroke="#6a6a6a" stroke-width="0.6" />
<rect x="141.82" y="366.40" width="8.15" height="32.20" fill="#2db47c" stroke="#555" stroke-width="0.5" />
<clipPath id="hc4"><rect x="141.82" y="366.40" width="8.15" height="32.20"/></clipPath>
<path d="M141.32,367.61L150.47,361.94M141.32,370.36L150.47,364.69M141.32,373.11L150.47,367.44M141.32,375.86L150.47,370.19M141.32,378.61L150.47,372.94M141.32,381.36L150.47,375.69M141.32,384.11L150.47,378.44M141.32,386.86L150.47,381.19M141.32,389.61L150.47,383.94M141.32,392.36L150.47,386.69M141.32,395.11L150.47,389.44M141.32,397.86L150.47,392.19M141.32,400.61L150.47,394.94M141.32,403.36L150.47,397.69" stroke="#222" stroke-width="1.1" fill="none" clip-path="url(#hc4)"/>
<rect x="141.82" y="366.40" width="8.15" height="32.20" fill="none" stroke="#444" stroke-width="0.5" />
<line x1="141.82" y1="378.00" x2="149.97" y2="378.00" stroke="#333" stroke-width="0.6" />
<circle cx="145.89" cy="307.20" r="0.90" fill="#111" />
<line x1="164.85" y1="434.00" x2="164.85" y2="436.20" stroke="#555" stroke-width="0.6" />
<text x="164.75" y="446.80" font-size="7.6" text-anchor="middle" textLength="16.60" lengthAdjust="spacingAndGlyphs">KIRC</text>
<line x1="160.65" y1="357.10" x2="160.65" y2="393.00" stroke="#6a6a6a" stroke-width="0.6" />
<line x1="160.65" y1="416.80" x2="160.65" y2="425.50" stroke="#6a6a6a" stroke-width="0.6" />
<rect x="156.55" y="393.00" width="8.20" height="23.80" fill="#1fbac2" stroke="#555" stroke-width="0.5" />
<line x1="156.55" y1="405.40" x2="164.75" y2="405.40" stroke="#333" stroke-width="0.6" />
<circle cx="160.65" cy="334.50" r="0.90" fill="#111" />
<circle cx="160.65" cy="319.80" r="0.90" fill="#111" />
<circle cx="160.65" cy="289.30" r="0.90" fill="#111" />
<line x1="169.52" y1="344.00" x2="169.52" y2="382.50" stroke="#6a6a6a" stroke-width="0.6" />
<line x1="169.52" y1="409.30" x2="169.52" y2="423.80" stroke="#6a6a6a" stroke-width="0.6" />
<rect x="165.45" y="382.50" width="8.15" height="26.80" fill="#1fbac2" stroke="#555" stroke-width="0.5" />
<clipPath id="hc5"><rect x="165.45" y="382.50" width="8.15" height="26.80"/></clipPath>
<path d="M164.95,383.71L174.10,378.04M164.95,386.46L174.10,380.79M164.95,389.21L174.10,383.54M164.95,391.96L174.10,386.29M164.95,394.71L174.10,389.04M164.95,397.46L174.10,391.79M164.95,400.21L174.10,394.54M164.95,402.96L174.10,397.29M164.95,405.71L174.10,400.04M164.95,408.46L174.10,402.79M164.95,411.21L174.10,405.54M164.95,413.96L174.10,408.29" stroke="#222" stroke-width="1.1" fill="none" clip-path="url(#hc5)"/>
<rect x="165.45" y="382.50" width="8.15" height="26.80" fill="none" stroke="#444" stroke-width="0.5" />
<line x1="165.45" y1="396.00" x2="173.60" y2="396.00" stroke="#333" stroke-width="0.6" />
<circle cx="169.52" cy="333.10" r="0.90" fill="#111" />
<circle cx="169.52" cy="335.40" r="0.90" fill="#111" />
<circle cx="169.52" cy="338.00" r="0.90" fill="#111" />
<circle cx="169.52" cy="320.40" r="0.90" fill="#111" />
<circle cx="169.52" cy="286.70" r="0.90" fill="#111" />
<line x1="188.48" y1="434.00" x2="188.48" y2="436.20" stroke="#555" stroke-width="0.6" />
<text x="188.38" y="446.80" font-size="7.6" text-anchor="middle" textLength="19.60" lengthAdjust="spacingAndGlyphs">BRCA</text>
<line x1="184.28" y1="331.40" x2="184.28" y2="380.10" stroke="#6a6a6a" stroke-width="0.6" />
<line x1="184.28" y1="414.40" x2="184.28" y2="425.50" stroke="#6a6a6a" stroke-width="0.6" />
<rect x="180.18" y="380.10" width="8.20" height="34.30" fill="#36a9e1" stroke="#555" stroke-width="0.5" />
<line x1="180.18" y1="401.30" x2="188.38" y2="401.30" stroke="#333" stroke-width="0.6" />
<line x1="193.16" y1="317.00" x2="193.16" y2="363.30" stroke="#6a6a6a" stroke-width="0.6" />
<line x1="193.16" y1="395.30" x2="193.16" y2="425.50" stroke="#6a6a6a" stroke-width="0.6" />
<rect x="189.08" y="363.30" width="8.15" height="32.00" fill="#36a9e1" stroke="#555" stroke-width="0.5" />
<clipPath id="hc6"><rect x="189.08" y="363.30" width="8.15" height="32.00"/></clipPath>
<path d="M188.58,364.51L197.73,358.84M188.58,367.26L197.73,361.59M188.58,370.01L197.73,364.34M188.58,372.76L197.73,367.09M188.58,375.51L197.73,369.84M188.58,378.26L197.73,372.59M188.58,381.01L197.73,375.34M188.58,383.76L197.73,378.09M188.58,386.51L197.73,380.84M188.58,389.26L197.73,383.59M188.58,392.01L197.73,386.34M188.58,394.76L197.73,389.09M188.58,397.51L197.73,391.84M188.58,400.26L197.73,394.59" stroke="#222" stroke-width="1.1" fill="none" clip-path="url(#hc6)"/>
<rect x="189.08" y="363.30" width="8.15" height="32.00" fill="none" stroke="#444" stroke-width="0.5" />
<line x1="189.08" y1="374.00" x2="197.23" y2="374.00" stroke="#333" stroke-width="0.6" />
<circle cx="193.16" cy="275.80" r="0.90" fill="#111" />
<circle cx="193.16" cy="301.00" r="0.90" fill="#111" />
<circle cx="193.16" cy="307.70" r="0.90" fill="#111" />
<line x1="212.11" y1="434.00" x2="212.11" y2="436.20" stroke="#555" stroke-width="0.6" />
<text x="212.01" y="446.80" font-size="7.6" text-anchor="middle" textLength="19.60" lengthAdjust="spacingAndGlyphs">LUAD</text>
<line x1="207.91" y1="355.00" x2="207.91" y2="391.50" stroke="#6a6a6a" stroke-width="0.6" />
<line x1="207.91" y1="420.50" x2="207.91" y2="425.50" stroke="#6a6a6a" stroke-width="0.6" />
<rect x="203.81" y="391.50" width="8.20" height="29.00" fill="#8885c9" stroke="#555" stroke-width="0.5" />
<line x1="203.81" y1="406.00" x2="212.01" y2="406.00" stroke="#333" stroke-width="0.6" />
<circle cx="207.91" cy="332.60" r="0.90" fill="#111" />
<circle cx="207.91" cy="299.30" r="0.90" fill="#111" />
<line x1="216.78" y1="314.20" x2="216.78" y2="365.00" stroke="#6a6a6a" stroke-width="0.6" />
<line x1="216.78" y1="397.70" x2="216.78" y2="420.50" stroke="#6a6a6a" stroke-width="0.6" />
<rect x="212.71" y="365.00" width="8.15" height="32.70" fill="#8885c9" stroke="#555" stroke-width="0.5" />
<clipPath id="hc7"><rect x="212.71" y="365.00" width="8.15" height="32.70"/></clipPath>
<path d="M212.21,366.21L221.36,360.54M212.21,368.96L221.36,363.29M212.21,371.71L221.36,366.04M212.21,374.46L221.36,368.79M212.21,377.21L221.36,371.54M212.21,379.96L221.36,374.29M212.21,382.71L221.36,377.04M212.21,385.46L221.36,379.79M212.21,388.21L221.36,382.54M212.21,390.96L221.36,385.29M212.21,393.71L221.36,388.04M212.21,396.46L221.36,390.79M212.21,399.21L221.36,393.54M212.21,401.96L221.36,396.29" stroke="#222" stroke-width="1.1" fill="none" clip-path="url(#hc7)"/>
<rect x="212.71" y="365.00" width="8.15" height="32.70" fill="none" stroke="#444" stroke-width="0.5" />
<line x1="212.71" y1="380.00" x2="220.86" y2="380.00" stroke="#333" stroke-width="0.6" />
<line x1="235.74" y1="434.00" x2="235.74" y2="436.20" stroke="#555" stroke-width="0.6" />
<text x="235.64" y="446.80" font-size="7.6" text-anchor="middle" textLength="16.20" lengthAdjust="spacingAndGlyphs">GBM</text>
<line x1="231.54" y1="348.40" x2="231.54" y2="386.60" stroke="#6a6a6a" stroke-width="0.6" />
<line x1="231.54" y1="413.50" x2="231.54" y2="423.80" stroke="#6a6a6a" stroke-width="0.6" />
<rect x="227.44" y="386.60" width="8.20" height="26.90" fill="#c16eb6" stroke="#555" stroke-width="0.5" />
<line x1="227.44" y1="405.30" x2="235.64" y2="405.30" stroke="#333" stroke-width="0.6" />
<circle cx="231.54" cy="306.00" r="0.90" fill="#111" />
<circle cx="231.54" cy="310.90" r="0.90" fill="#111" />
<circle cx="231.54" cy="323.50" r="0.90" fill="#111" />
<circle cx="231.54" cy="339.80" r="0.90" fill="#111" />
<circle cx="231.54" cy="341.90" r="0.90" fill="#111" />
<circle cx="231.54" cy="345.80" r="0.90" fill="#111" />
<line x1="240.41" y1="341.90" x2="240.41" y2="381.20" stroke="#6a6a6a" stroke-width="0.6" />
<line x1="240.41" y1="409.80" x2="240.41" y2="425.50" stroke="#6a6a6a" stroke-width="0.6" />
<rect x="236.34" y="381.20" width="8.15" height="28.60" fill="#c16eb6" stroke="#555" stroke-width="0.5" />
<clipPath id="hc8"><rect x="236.34" y="381.20" width="8.15" height="28.60"/></clipPath>
<path d="M235.84,382.41L244.99,376.74M235.84,385.16L244.99,379.49M235.84,387.91L244.99,382.24M235.84,390.66L244.99,384.99M235.84,393.41L244.99,387.74M235.84,396.16L244.99,390.49M235.84,398.91L244.99,393.24M235.84,401.66L244.99,395.99M235.84,404.41L244.99,398.74M235.84,407.16L244.99,401.49M235.84,409.91L244.99,404.24M235.84,412.66L244.99,406.99" stroke="#222" stroke-width="1.1" fill="none" clip-path="url(#hc8)"/>
<rect x="236.34" y="381.20" width="8.15" height="28.60" fill="none" stroke="#444" stroke-width="0.5" />
<line x1="236.34" y1="399.70" x2="244.49" y2="399.70" stroke="#333" stroke-width="0.6" />
<circle cx="240.41" cy="281.10" r="0.90" fill="#111" />
<circle cx="240.41" cy="311.60" r="0.90" fill="#111" />
<circle cx="240.41" cy="320.90" r="0.90" fill="#111" />
<line x1="259.37" y1="434.00" x2="259.37" y2="436.20" stroke="#555" stroke-width="0.6" />
<text x="259.27" y="446.80" font-size="7.6" text-anchor="middle" textLength="20.40" lengthAdjust="spacingAndGlyphs">SKCM</text>
<line x1="255.17" y1="340.10" x2="255.17" y2="384.60" stroke="#6a6a6a" stroke-width="0.6" />
<line x1="255.17" y1="415.00" x2="255.17" y2="425.50" stroke="#6a6a6a" stroke-width="0.6" />
<rect x="251.07" y="384.60" width="8.20" height="30.40" fill="#f0609f" stroke="#555" stroke-width="0.5" />
<line x1="251.07" y1="403.30" x2="259.27" y2="403.30" stroke="#333" stroke-width="0.6" />
<circle cx="255.17" cy="314.70" r="0.90" fill="#111" />
<circle cx="255.17" cy="326.50" r="0.90" fill="#111" />
<line x1="264.04" y1="341.90" x2="264.04" y2="384.10" stroke="#6a6a6a" stroke-width="0.6" />
<line x1="264.04" y1="412.80" x2="264.04" y2="425.50" stroke="#6a6a6a" stroke-width="0.6" />
<rect x="259.97" y="384.10" width="8.15" height="28.70" fill="#f0609f" stroke="#555" stroke-width="0.5" />
<clipPath id="hc9"><rect x="259.97" y="384.10" width="8.15" height="28.70"/></clipPath>
<path d="M259.47,385.31L268.62,379.64M259.47,388.06L268.62,382.39M259.47,390.81L268.62,385.14M259.47,393.56L268.62,387.89M259.47,396.31L268.62,390.64M259.47,399.06L268.62,393.39M259.47,401.81L268.62,396.14M259.47,404.56L268.62,398.89M259.47,407.31L268.62,401.64M259.47,410.06L268.62,404.39M259.47,412.81L268.62,407.14M259.47,415.56L268.62,409.89" stroke="#222" stroke-width="1.1" fill="none" clip-path="url(#hc9)"/>
<rect x="259.97" y="384.10" width="8.15" height="28.70" fill="none" stroke="#444" stroke-width="0.5" />
<line x1="259.97" y1="396.40" x2="268.12" y2="396.40" stroke="#333" stroke-width="0.6" />
<circle cx="264.04" cy="330.00" r="0.90" fill="#111" />
<circle cx="264.04" cy="331.90" r="0.90" fill="#111" />
<circle cx="264.04" cy="338.90" r="0.90" fill="#111" />
<circle cx="264.04" cy="341.40" r="0.90" fill="#111" />
<text x="35.90" y="268.60" font-size="6.3" textLength="35.90" lengthAdjust="spacingAndGlyphs" fill="#333" stroke="#333" stroke-width="0.05"><tspan font-style="italic">P</tspan><tspan font-size="4.54"> = </tspan>5.0<tspan font-size="4.54"> × </tspan>10<tspan font-size="3.78" dy="-2.27">−17</tspan></text>
<text x="54.00" y="294.90" font-size="6.3" textLength="33.00" lengthAdjust="spacingAndGlyphs" fill="#333" stroke="#333" stroke-width="0.05"><tspan font-style="italic">P</tspan><tspan font-size="4.54"> = </tspan>1.1<tspan font-size="4.54"> × </tspan>10<tspan font-size="3.78" dy="-2.27">−14</tspan></text>
<text x="77.00" y="285.00" font-size="6.3" textLength="34.20" lengthAdjust="spacingAndGlyphs" fill="#333" stroke="#333" stroke-width="0.05"><tspan font-style="italic">P</tspan><tspan font-size="4.54"> = </tspan>1.6<tspan font-size="4.54"> × </tspan>10<tspan font-size="3.78" dy="-2.27">−18</tspan></text>
<text x="106.10" y="313.30" font-size="6.3" textLength="23.20" lengthAdjust="spacingAndGlyphs" fill="#333" stroke="#333" stroke-width="0.05"><tspan font-style="italic">P</tspan><tspan font-size="4.54"> = </tspan>0.101</text>
<text x="124.90" y="301.00" font-size="6.3" textLength="32.90" lengthAdjust="spacingAndGlyphs" fill="#333" stroke="#333" stroke-width="0.05"><tspan font-style="italic">P</tspan><tspan font-size="4.54"> = </tspan>1.8<tspan font-size="4.54"> × </tspan>10<tspan font-size="3.78" dy="-2.27">−6</tspan></text>
<text x="152.00" y="278.30" font-size="6.3" textLength="26.00" lengthAdjust="spacingAndGlyphs" fill="#333" stroke="#333" stroke-width="0.05"><tspan font-style="italic">P</tspan><tspan font-size="4.54"> = </tspan>0.023</text>
<text x="171.80" y="270.00" font-size="6.3" textLength="33.80" lengthAdjust="spacingAndGlyphs" fill="#333" stroke="#333" stroke-width="0.05"><tspan font-style="italic">P</tspan><tspan font-size="4.54"> = </tspan>2.8<tspan font-size="4.54"> × </tspan>10<tspan font-size="3.78" dy="-2.27">−7</tspan></text>
<text x="194.30" y="290.60" font-size="6.3" textLength="35.50" lengthAdjust="spacingAndGlyphs" fill="#333" stroke="#333" stroke-width="0.05"><tspan font-style="italic">P</tspan><tspan font-size="4.54"> = </tspan>2.3<tspan font-size="4.54"> × </tspan>10<tspan font-size="3.78" dy="-2.27">−19</tspan></text>
<text x="224.00" y="275.00" font-size="6.3" textLength="23.80" lengthAdjust="spacingAndGlyphs" fill="#333" stroke="#333" stroke-width="0.05"><tspan font-style="italic">P</tspan><tspan font-size="4.54"> = </tspan>0.153</text>
<text x="246.00" y="306.80" font-size="6.3" textLength="26.20" lengthAdjust="spacingAndGlyphs" fill="#333" stroke="#333" stroke-width="0.05"><tspan font-style="italic">P</tspan><tspan font-size="4.54"> = </tspan>0.200</text>
<line x1="283.50" y1="286.70" x2="283.50" y2="296.20" stroke="#444" stroke-width="0.5" />
<rect x="278.50" y="288.40" width="10.00" height="6.20" fill="#fff" stroke="#444" stroke-width="0.5" />
<line x1="278.50" y1="291.50" x2="288.50" y2="291.50" stroke="#444" stroke-width="0.5" />
<text x="292.80" y="294.40" font-size="9.0" textLength="30.30" lengthAdjust="spacingAndGlyphs">Healthy</text>
<line x1="283.50" y1="299.00" x2="283.50" y2="308.50" stroke="#444" stroke-width="0.5" />
<rect x="278.50" y="300.70" width="10.00" height="6.20" fill="#fff" stroke="#444" stroke-width="0.5" />
<line x1="278.50" y1="303.80" x2="288.50" y2="303.80" stroke="#444" stroke-width="0.5" />
<line x1="278.70" y1="306.70" x2="288.30" y2="300.90" stroke="#111" stroke-width="0.9" />
<text x="292.80" y="306.70" font-size="9.0" textLength="24.90" lengthAdjust="spacingAndGlyphs">Tumor</text>
<text x="-0.20" y="475.10" font-size="11.8" textLength="7.30" lengthAdjust="spacingAndGlyphs" fill="#111" font-weight="bold" stroke="#111" stroke-width="0.5" stroke-linejoin="round">e</text>
<text x="106.00" y="480.10" font-size="9.0" text-anchor="middle" textLength="97.80" lengthAdjust="spacingAndGlyphs">ACCA drift genes in CRC</text>
<rect x="5.50" y="487.40" width="32.30" height="33.90" fill="#6dcde3" />
<rect x="37.80" y="487.40" width="91.80" height="33.90" fill="#f7941d" />
<rect x="129.60" y="487.40" width="78.90" height="33.90" fill="#939393" />
<rect x="5.50" y="487.40" width="203.00" height="33.90" fill="none" stroke="#555" stroke-width="0.6" />
<text x="21.90" y="508.60" font-size="7.4" text-anchor="middle" textLength="25.80" lengthAdjust="spacingAndGlyphs" fill="#1a1a1a" font-weight="bold" stroke="#1a1a1a" stroke-width="0.25">15.92%</text>
<text x="86.00" y="508.60" font-size="7.4" text-anchor="middle" textLength="25.80" lengthAdjust="spacingAndGlyphs" fill="#1a1a1a" font-weight="bold" stroke="#1a1a1a" stroke-width="0.25">45.21%</text>
<text x="169.70" y="508.60" font-size="7.4" text-anchor="middle" textLength="25.80" lengthAdjust="spacingAndGlyphs" fill="#1a1a1a" font-weight="bold" stroke="#1a1a1a" stroke-width="0.25">38.87%</text>
<rect x="224.00" y="484.10" width="7.70" height="7.60" fill="#6dcde3" stroke="#555" stroke-width="0.5" />
<text x="236.90" y="490.70" font-size="9.0" textLength="10.40" lengthAdjust="spacingAndGlyphs">Up</text>
<rect x="224.00" y="496.20" width="7.70" height="7.60" fill="#f7941d" stroke="#555" stroke-width="0.5" />
<text x="236.90" y="502.80" font-size="9.0" textLength="22.50" lengthAdjust="spacingAndGlyphs">Down</text>
<rect x="224.00" y="508.20" width="7.70" height="7.60" fill="#939393" stroke="#555" stroke-width="0.5" />
<text x="236.90" y="514.80" font-size="9.0" textLength="54.30" lengthAdjust="spacingAndGlyphs">Not regulated</text>
<text x="332.00" y="249.90" font-size="12.6" textLength="4.40" lengthAdjust="spacingAndGlyphs" fill="#111" font-weight="bold" stroke="#111" stroke-width="0.5" stroke-linejoin="round">f</text>
<g><path d="M362.6,301.8 C361.8,304.4 360.4,306.6 359.6,308.4 C359.2,309.6 360.4,310.2 361.6,309.8 C363.6,308.8 364.4,305.2 363.6,302.6" fill="#fff" stroke="#1a1a1a" stroke-width="1.0" stroke-linejoin="round"/><path d="M358.00,282.80C358.73,283.60 361.45,286.05 362.40,287.60C363.35,289.15 363.38,290.38 363.70,292.10C364.02,293.82 364.47,296.40 364.30,297.90C364.13,299.40 363.45,300.30 362.70,301.10C361.95,301.90 360.92,302.27 359.80,302.70C358.68,303.13 357.17,303.75 356.00,303.70C354.83,303.65 353.82,303.05 352.80,302.40C351.78,301.75 350.60,300.65 349.90,299.80C349.20,298.95 348.98,298.80 348.60,297.30C348.22,295.80 347.92,293.05 347.60,290.80C347.28,288.55 346.40,285.38 346.70,283.80C347.00,282.22 348.95,281.72 349.40,281.30C343.96,279.85 344.16,270.95 349.60,272.40C349.03,271.30 346.50,267.70 346.20,265.80C345.90,263.90 347.17,261.93 347.80,261.00C348.43,260.07 349.63,260.33 350.00,260.20C349.95,259.38 349.43,256.58 349.70,255.30C349.97,254.02 350.20,253.08 351.60,252.50C353.00,251.92 356.17,251.80 358.10,251.80C360.03,251.80 361.98,252.02 363.20,252.50C364.42,252.98 364.97,253.95 365.40,254.70C365.83,255.45 365.73,256.62 365.80,257.00C365.72,254.36 373.42,256.26 373.50,258.90C373.50,256.94 379.90,258.84 379.90,260.80C380.16,259.18 386.26,260.28 386.00,261.90C386.00,259.94 392.00,260.44 392.00,262.40C392.34,261.47 397.94,259.77 397.60,260.70C397.34,258.57 402.84,256.68 403.10,258.80C402.84,256.25 409.54,254.05 409.80,256.60C409.54,254.90 415.64,252.90 415.90,254.60C415.99,252.99 421.09,251.69 421.00,253.30C421.33,252.88 422.03,251.43 423.00,250.80C423.97,250.17 425.52,249.45 426.80,249.50C428.08,249.55 429.83,250.47 430.70,251.10C431.57,251.73 431.97,252.48 432.00,253.30C432.03,254.12 431.08,255.55 430.90,256.00C431.40,255.93 433.18,255.08 433.90,255.60C434.62,256.12 435.15,257.77 435.20,259.10C435.25,260.43 434.73,262.42 434.20,263.60C433.67,264.78 432.98,265.57 432.00,266.20C431.02,266.83 428.92,267.20 428.30,267.40C428.53,267.73 429.62,268.63 429.70,269.40C429.78,270.17 429.47,271.42 428.80,272.00C428.13,272.58 426.22,272.75 425.70,272.90C429.35,273.50 429.45,281.60 425.80,281.00C430.22,280.83 430.42,287.03 426.00,287.20C429.57,286.95 428.57,293.05 425.00,293.30C428.57,294.06 426.97,300.16 423.40,299.40C426.97,300.16 425.37,306.26 421.80,305.50C424.52,305.41 422.32,310.11 419.60,310.20C423.68,310.71 418.88,315.71 414.80,315.20C419.99,316.05 416.49,320.25 411.30,319.40C415.98,319.82 411.48,323.73 406.80,323.30C406.43,323.68 405.62,325.02 404.60,325.60C403.58,326.18 402.20,326.77 400.70,326.80C399.20,326.83 396.78,326.38 395.60,325.80C394.42,325.22 393.93,323.72 393.60,323.30C394.62,321.80 398.68,315.80 399.70,314.30C395.36,313.11 401.86,309.91 406.20,311.10C401.02,310.00 405.72,306.30 410.90,307.40C407.67,305.87 409.27,300.07 412.50,301.60C412.33,300.97 411.55,299.10 411.50,297.80C411.45,296.50 411.50,294.67 412.20,293.80C412.90,292.93 415.12,292.80 415.70,292.60C415.48,292.00 414.58,290.18 414.40,289.00C414.22,287.82 414.10,286.47 414.60,285.50C415.10,284.53 416.93,283.58 417.40,283.20C417.10,282.50 415.85,280.33 415.60,279.00C415.35,277.67 415.47,276.37 415.90,275.20C416.33,274.03 417.88,273.07 418.20,272.00C418.52,270.93 418.28,269.53 417.80,268.80C417.32,268.07 416.10,267.98 415.30,267.60C414.50,267.22 413.38,266.68 413.00,266.50C411.81,270.83 404.81,271.53 406.00,267.20C405.40,271.02 398.90,273.52 399.50,269.70C399.42,271.82 393.72,272.73 393.80,270.60C394.48,272.98 386.68,273.58 386.00,271.20C386.00,273.83 378.00,272.13 378.00,269.50C378.00,271.79 372.80,269.89 372.80,267.60C372.29,269.56 368.49,268.25 369.00,266.30C368.60,266.33 367.33,266.65 366.60,266.50C365.87,266.35 365.17,265.12 364.60,265.40C364.03,265.68 363.80,267.27 363.20,268.20C362.60,269.13 361.93,270.25 361.00,271.00C360.07,271.75 358.17,272.42 357.60,272.70C358.32,273.18 361.23,274.42 361.90,275.60C362.57,276.78 362.25,278.60 361.60,279.80C360.95,281.00 358.60,282.30 358.00,282.80Z" fill="#b93a24"/><path d="M358.00,282.80C358.73,283.60 361.45,286.05 362.40,287.60C363.35,289.15 363.38,290.38 363.70,292.10C364.02,293.82 364.47,296.40 364.30,297.90C364.13,299.40 363.45,300.30 362.70,301.10C361.95,301.90 360.92,302.27 359.80,302.70C358.68,303.13 357.17,303.75 356.00,303.70C354.83,303.65 353.82,303.05 352.80,302.40C351.78,301.75 350.60,300.65 349.90,299.80C349.20,298.95 348.98,298.80 348.60,297.30C348.22,295.80 347.92,293.05 347.60,290.80C347.28,288.55 346.40,285.38 346.70,283.80C347.00,282.22 348.95,281.72 349.40,281.30C343.96,279.85 344.16,270.95 349.60,272.40C349.03,271.30 346.50,267.70 346.20,265.80C345.90,263.90 347.17,261.93 347.80,261.00C348.43,260.07 349.63,260.33 350.00,260.20C349.95,259.38 349.43,256.58 349.70,255.30C349.97,254.02 350.20,253.08 351.60,252.50C353.00,251.92 356.17,251.80 358.10,251.80C360.03,251.80 361.98,252.02 363.20,252.50C364.42,252.98 364.97,253.95 365.40,254.70C365.83,255.45 365.73,256.62 365.80,257.00C365.72,254.36 373.42,256.26 373.50,258.90C373.50,256.94 379.90,258.84 379.90,260.80C380.16,259.18 386.26,260.28 386.00,261.90C386.00,259.94 392.00,260.44 392.00,262.40C392.34,261.47 397.94,259.77 397.60,260.70C397.34,258.57 402.84,256.68 403.10,258.80C402.84,256.25 409.54,254.05 409.80,256.60C409.54,254.90 415.64,252.90 415.90,254.60C415.99,252.99 421.09,251.69 421.00,253.30C421.33,252.88 422.03,251.43 423.00,250.80C423.97,250.17 425.52,249.45 426.80,249.50C428.08,249.55 429.83,250.47 430.70,251.10C431.57,251.73 431.97,252.48 432.00,253.30C432.03,254.12 431.08,255.55 430.90,256.00C431.40,255.93 433.18,255.08 433.90,255.60C434.62,256.12 435.15,257.77 435.20,259.10C435.25,260.43 434.73,262.42 434.20,263.60C433.67,264.78 432.98,265.57 432.00,266.20C431.02,266.83 428.92,267.20 428.30,267.40C428.53,267.73 429.62,268.63 429.70,269.40C429.78,270.17 429.47,271.42 428.80,272.00C428.13,272.58 426.22,272.75 425.70,272.90C429.35,273.50 429.45,281.60 425.80,281.00C430.22,280.83 430.42,287.03 426.00,287.20C429.57,286.95 428.57,293.05 425.00,293.30C428.57,294.06 426.97,300.16 423.40,299.40C426.97,300.16 425.37,306.26 421.80,305.50C424.52,305.41 422.32,310.11 419.60,310.20C423.68,310.71 418.88,315.71 414.80,315.20C419.99,316.05 416.49,320.25 411.30,319.40C415.98,319.82 411.48,323.73 406.80,323.30C406.43,323.68 405.62,325.02 404.60,325.60C403.58,326.18 402.20,326.77 400.70,326.80C399.20,326.83 396.78,326.38 395.60,325.80C394.42,325.22 393.93,323.72 393.60,323.30M399.70,314.30C395.36,313.11 401.86,309.91 406.20,311.10C401.02,310.00 405.72,306.30 410.90,307.40C407.67,305.87 409.27,300.07 412.50,301.60C412.33,300.97 411.55,299.10 411.50,297.80C411.45,296.50 411.50,294.67 412.20,293.80C412.90,292.93 415.12,292.80 415.70,292.60C415.48,292.00 414.58,290.18 414.40,289.00C414.22,287.82 414.10,286.47 414.60,285.50C415.10,284.53 416.93,283.58 417.40,283.20C417.10,282.50 415.85,280.33 415.60,279.00C415.35,277.67 415.47,276.37 415.90,275.20C416.33,274.03 417.88,273.07 418.20,272.00C418.52,270.93 418.28,269.53 417.80,268.80C417.32,268.07 416.10,267.98 415.30,267.60C414.50,267.22 413.38,266.68 413.00,266.50C411.81,270.83 404.81,271.53 406.00,267.20C405.40,271.02 398.90,273.52 399.50,269.70C399.42,271.82 393.72,272.73 393.80,270.60C394.48,272.98 386.68,273.58 386.00,271.20C386.00,273.83 378.00,272.13 378.00,269.50C378.00,271.79 372.80,269.89 372.80,267.60C372.29,269.56 368.49,268.25 369.00,266.30C368.60,266.33 367.33,266.65 366.60,266.50C365.87,266.35 365.17,265.12 364.60,265.40C364.03,265.68 363.80,267.27 363.20,268.20C362.60,269.13 361.93,270.25 361.00,271.00C360.07,271.75 358.17,272.42 357.60,272.70C358.32,273.18 361.23,274.42 361.90,275.60C362.57,276.78 362.25,278.60 361.60,279.80C360.95,281.00 358.60,282.30 358.00,282.80" fill="none" stroke="#1a1a1a" stroke-width="1.05" stroke-linejoin="round" stroke-linecap="round"/><path d="M356.60,294.40C356.40,293.00 355.77,288.73 355.40,286.00C355.03,283.27 354.65,280.97 354.40,278.00C354.15,275.03 353.62,270.68 353.90,268.20C354.18,265.72 354.87,264.33 356.10,263.10C357.33,261.87 359.37,261.18 361.30,260.80C363.23,260.42 365.57,260.58 367.70,260.80C369.83,261.02 371.97,261.57 374.10,262.10C376.23,262.63 378.52,263.45 380.50,264.00C382.48,264.55 383.42,265.13 386.00,265.40C388.58,265.67 392.73,265.78 396.00,265.60C399.27,265.42 402.60,264.85 405.60,264.30C408.60,263.75 411.85,262.57 414.00,262.30C416.15,262.03 417.33,262.27 418.50,262.70C419.67,263.13 420.42,263.78 421.00,264.90C421.58,266.02 421.78,267.22 422.00,269.40C422.22,271.58 422.17,275.73 422.30,278.00C422.43,280.27 422.93,280.78 422.80,283.00C422.67,285.22 422.15,288.62 421.50,291.30C420.85,293.98 419.87,296.73 418.90,299.10C417.93,301.47 416.98,303.47 415.70,305.50C414.42,307.53 412.80,309.58 411.20,311.30C409.60,313.02 407.75,314.60 406.10,315.80C404.45,317.00 402.10,318.05 401.30,318.50" fill="none" stroke="#2a1616" stroke-width="1.0" stroke-linecap="round"/></g>
<text x="387.30" y="283.50" font-size="8.2" text-anchor="middle" textLength="20.00" lengthAdjust="spacingAndGlyphs">Colon</text>
<text x="387.30" y="292.00" font-size="8.2" text-anchor="middle" textLength="24.50" lengthAdjust="spacingAndGlyphs">healthy</text>
<text x="387.30" y="300.20" font-size="8.2" text-anchor="middle" textLength="36.40" lengthAdjust="spacingAndGlyphs">epithelium</text>
<defs><marker id="ah" viewBox="0 0 10 10" refX="8" refY="5" markerWidth="7" markerHeight="7" orient="auto-start-reverse"><path d="M0,1 L9,5 L0,9 L2.5,5 Z" fill="#2c4873"/></marker></defs>
<path d="M363.3,325.3 C345.0,346 345.0,372 358.6,391.5" fill="none" stroke="#2c4873" stroke-width="0.75" marker-end="url(#ah)"/>
<path d="M415.8,325.3 C434.4,346 434.4,372 421.1,391.5" fill="none" stroke="#2c4873" stroke-width="0.75" marker-end="url(#ah)"/>
<text x="372.20" y="359.40" font-size="9.0" text-anchor="middle" textLength="66.60" lengthAdjust="spacingAndGlyphs" transform="rotate(-90 372.20 359.40)">DNA methylation</text>
<text x="412.80" y="359.40" font-size="9.0" text-anchor="middle" textLength="66.60" lengthAdjust="spacingAndGlyphs" transform="rotate(-90 412.80 359.40)">Gene expression</text>
<rect x="344.00" y="399.60" width="45.60" height="40.90" fill="#fff" stroke="#3c3c3c" stroke-width="0.7" />
<rect x="395.90" y="399.60" width="45.70" height="40.90" fill="#fff" stroke="#3c3c3c" stroke-width="0.7" />
<text x="366.80" y="409.30" font-size="7.8" text-anchor="middle" textLength="28.00" lengthAdjust="spacingAndGlyphs">Average</text>
<text x="418.60" y="409.30" font-size="7.8" text-anchor="middle" textLength="23.50" lengthAdjust="spacingAndGlyphs">Scaled</text>
<text x="366.80" y="418.00" font-size="7.8" text-anchor="middle" textLength="40.30" lengthAdjust="spacingAndGlyphs">methylation</text>
<text x="418.60" y="418.00" font-size="7.8" text-anchor="middle" textLength="37.50" lengthAdjust="spacingAndGlyphs">normalized</text>
<text x="366.80" y="426.40" font-size="7.8" text-anchor="middle" textLength="16.00" lengthAdjust="spacingAndGlyphs">level</text>
<text x="418.60" y="426.40" font-size="7.8" text-anchor="middle" textLength="23.00" lengthAdjust="spacingAndGlyphs">counts</text>
<text x="366.80" y="435.00" font-size="7.8" text-anchor="middle" textLength="37.50" lengthAdjust="spacingAndGlyphs">(HMP-A&amp;C)</text>
<text x="418.60" y="435.00" font-size="7.8" text-anchor="middle" textLength="35.00" lengthAdjust="spacingAndGlyphs">(all genes)</text>
<line x1="364.30" y1="443.40" x2="364.30" y2="453.70" stroke="#2b4a7a" stroke-width="0.75" />
<path d="M362.60,451.20 L364.30,455.20 L366.00,451.20 L364.30,452.40 Z" fill="#2b4a7a"/>
<line x1="416.20" y1="443.40" x2="416.20" y2="453.70" stroke="#2b4a7a" stroke-width="0.75" />
<path d="M414.50,451.20 L416.20,455.20 L417.90,451.20 L416.20,452.40 Z" fill="#2b4a7a"/>
<rect x="344.00" y="457.20" width="97.60" height="24.10" fill="#fff" stroke="#3c3c3c" stroke-width="0.7" />
<text x="392.70" y="467.30" font-size="7.8" text-anchor="middle" textLength="80.60" lengthAdjust="spacingAndGlyphs">Pearson correlation test</text>
<text x="392.70" y="475.90" font-size="7.8" text-anchor="middle" textLength="67.50" lengthAdjust="spacingAndGlyphs">(each gene/sample)</text>
<line x1="390.10" y1="483.80" x2="390.10" y2="494.00" stroke="#2b4a7a" stroke-width="0.75" />
<path d="M388.40,491.50 L390.10,495.50 L391.80,491.50 L390.10,492.70 Z" fill="#2b4a7a"/>
<rect x="344.00" y="497.80" width="97.60" height="23.70" fill="#fff" stroke="#3c3c3c" stroke-width="0.7" />
<text x="391.70" y="507.60" font-size="7.8" text-anchor="middle" textLength="60.50" lengthAdjust="spacingAndGlyphs">List of statistically</text>
<text x="392.50" y="516.20" font-size="7.8" text-anchor="middle" textLength="57.00" lengthAdjust="spacingAndGlyphs">correlated genes</text>
<text x="458.60" y="250.30" font-size="12.0" textLength="7.60" lengthAdjust="spacingAndGlyphs" fill="#111" font-weight="bold" stroke="#111" stroke-width="0.35" stroke-linejoin="round">g</text>
<text x="591.60" y="272.20" font-size="9.0" text-anchor="middle" textLength="88.70" lengthAdjust="spacingAndGlyphs">Coexpression analysis</text>
<rect x="584.80" y="280.60" width="110.00" height="166.00" fill="#fff" stroke="#a9a9a9" stroke-width="0.8" />
<rect x="588.70" y="283.10" width="82.90" height="14.20" fill="#efe3f1" />
<text x="675.80" y="293.10" font-size="8.0">7</text>
<text x="580.60" y="292.40" font-size="7.6" text-anchor="end" textLength="61.50" lengthAdjust="spacingAndGlyphs">JAK–stat signaling</text>
<rect x="588.70" y="299.12" width="72.10" height="14.20" fill="#87878b" />
<text x="665.00" y="309.12" font-size="8.0">14</text>
<text x="580.60" y="308.42" font-size="7.6" text-anchor="end" textLength="104.00" lengthAdjust="spacingAndGlyphs">Protein ubiquitination pathway</text>
<rect x="588.70" y="315.14" width="69.60" height="14.20" fill="#f4694b" />
<text x="662.50" y="325.14" font-size="8.0">6</text>
<text x="580.60" y="324.44" font-size="7.6" text-anchor="end" textLength="50.00" lengthAdjust="spacingAndGlyphs">ERK5 signaling</text>
<rect x="588.70" y="331.16" width="67.20" height="14.20" fill="#fde7e0" />
<text x="658.50" y="341.16" font-size="8.0">10</text>
<text x="580.60" y="340.46" font-size="7.6" text-anchor="end" textLength="82.50" lengthAdjust="spacingAndGlyphs">Wnt/β–catenin signaling</text>
<rect x="588.70" y="347.18" width="64.40" height="14.20" fill="#87878b" />
<text x="657.30" y="357.18" font-size="8.0">5</text>
<text x="580.60" y="356.48" font-size="7.6" text-anchor="end" textLength="69.00" lengthAdjust="spacingAndGlyphs">Cell cycle control of</text>
<rect x="588.70" y="363.20" width="54.90" height="14.20" fill="#ed1c24" />
<text x="647.80" y="373.20" font-size="8.0">11</text>
<text x="580.60" y="372.50" font-size="7.6" text-anchor="end" textLength="88.00" lengthAdjust="spacingAndGlyphs">cAMP–mediated signaling</text>
<rect x="588.70" y="379.22" width="53.90" height="14.20" fill="#87878b" />
<text x="646.80" y="389.22" font-size="8.0">2</text>
<rect x="588.70" y="395.24" width="51.10" height="14.20" fill="#87878b" />
<text x="644.00" y="405.24" font-size="8.0">2</text>
<text x="580.60" y="404.54" font-size="7.6" text-anchor="end" textLength="95.00" lengthAdjust="spacingAndGlyphs">Glucocorticoid biosynthesis</text>
<rect x="588.70" y="411.26" width="44.40" height="14.20" fill="#87878b" />
<text x="637.30" y="421.26" font-size="8.0">9</text>
<text x="580.60" y="420.56" font-size="7.6" text-anchor="end" textLength="105.00" lengthAdjust="spacingAndGlyphs">Regulation of the EMT pathway</text>
<rect x="588.70" y="427.28" width="44.40" height="14.20" fill="#f9ac97" />
<text x="637.30" y="437.28" font-size="8.0">5</text>
<text x="580.60" y="436.58" font-size="7.6" text-anchor="end" textLength="71.50" lengthAdjust="spacingAndGlyphs">Chemokine signaling</text>
<text x="580.60" y="382.80" font-size="7.6" text-anchor="end" textLength="121.60" lengthAdjust="spacingAndGlyphs">Dolichyl–diphosphooligosaccharide</text>
<text x="580.60" y="393.00" font-size="7.6" text-anchor="end" textLength="42.50" lengthAdjust="spacingAndGlyphs">Biosynthesis</text>
<line x1="589.40" y1="446.60" x2="589.40" y2="449.60" stroke="#888" stroke-width="0.7" />
<text x="589.40" y="457.20" font-size="7.6" text-anchor="middle">0</text>
<line x1="622.60" y1="446.60" x2="622.60" y2="449.60" stroke="#888" stroke-width="0.7" />
<text x="622.60" y="457.20" font-size="7.6" text-anchor="middle">1</text>
<line x1="655.20" y1="446.60" x2="655.20" y2="449.60" stroke="#888" stroke-width="0.7" />
<text x="655.20" y="457.20" font-size="7.6" text-anchor="middle">2</text>
<text x="635.40" y="470.40" font-size="8.6" text-anchor="middle" textLength="43.00" lengthAdjust="spacingAndGlyphs">−log<tspan font-size="5.2" dy="1.8">10</tspan><tspan dy="-1.8">(</tspan><tspan font-style="italic">P</tspan><tspan font-size="5.2" dy="1.8">adj</tspan><tspan dy="-1.8">)</tspan></text>
<text x="514.70" y="463.80" font-size="9.0" text-anchor="middle"><tspan font-style="italic">z</tspan>-score</text>
<defs><linearGradient id="zg" x1="0" x2="1" y1="0" y2="0"><stop offset="0" stop-color="#e6d6ea"/><stop offset="0.14" stop-color="#ffffff"/><stop offset="0.4" stop-color="#fbd3c6"/><stop offset="0.72" stop-color="#f47a5e"/><stop offset="1" stop-color="#ed1c24"/></linearGradient></defs>
<rect x="489.10" y="468.00" width="50.90" height="10.60" fill="url(#zg)" />
<text x="496.50" y="487.90" font-size="8.0" text-anchor="middle">0</text>
<text x="509.20" y="487.90" font-size="8.0" text-anchor="middle">1</text>
<text x="521.80" y="487.90" font-size="8.0" text-anchor="middle">2</text>
<text x="534.70" y="487.90" font-size="8.0" text-anchor="middle">3</text>
<rect x="489.80" y="493.20" width="7.40" height="7.40" fill="#87878b" />
<text x="502.10" y="498.80" font-size="9.0" textLength="124.00" lengthAdjust="spacingAndGlyphs">No <tspan font-style="italic">z</tspan>-score prediction available</text>
</g>
</svg>
</body>
</html>
